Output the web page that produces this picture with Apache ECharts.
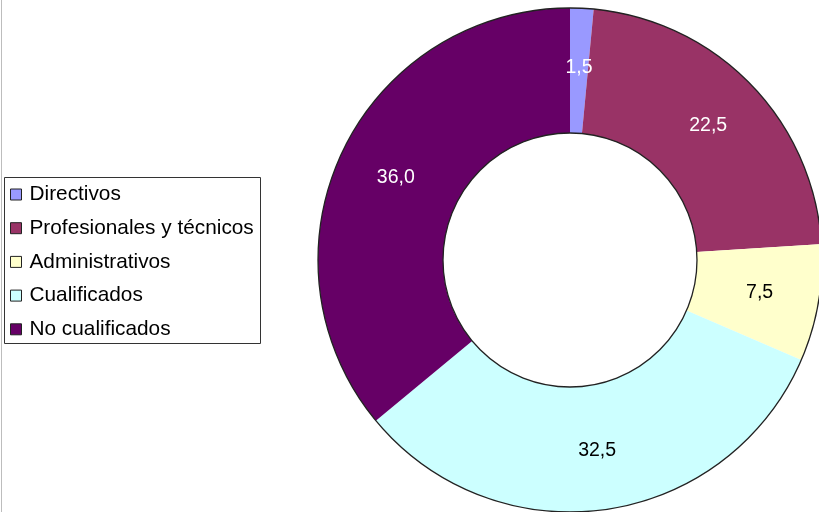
<!DOCTYPE html>
<html>
<head>
<meta charset="utf-8">
<script src="https://cdn.jsdelivr.net/npm/echarts@6/dist/echarts.min.js"></script>
<style>
html,body{margin:0;padding:0;background:#fff;}
#chart{width:819px;height:512px;}
</style>
</head>
<body>
<div id="chart"></div>
<script>
const categories = ['Directivos', 'Profesionales y técnicos', 'Administrativos', 'Cualificados', 'No cualificados'];
const values = [1.5, 22.5, 7.5, 32.5, 36.0];
const colors = ['#9999FF', '#993366', '#FFFFCC', '#CCFFFF', '#660066'];
const labelColors = ['#ffffff', '#ffffff', '#000000', '#000000', '#ffffff'];

const chart = echarts.init(document.getElementById('chart'), null, {renderer: 'canvas'});
const FONT = '"Liberation Sans", Arial, sans-serif';

const data = categories.map((name, i) => ({
  name: name,
  value: values[i],
  itemStyle: {color: colors[i]},
  label: {color: labelColors[i]}
}));

chart.setOption({
  animation: false,
  backgroundColor: '#ffffff',
  graphic: [
    {type: 'line', shape: {x1: 1.5, y1: 0, x2: 1.5, y2: 512}, style: {stroke: '#bdbdbd', lineWidth: 1}, silent: true},
    {type: 'rect', shape: {x: 4.5, y: 177.5, width: 256, height: 166}, style: {fill: '#ffffff', stroke: '#333333', lineWidth: 1}, z: -1, silent: true}
  ],
  legend: {
    orient: 'vertical',
    left: 10,
    top: 184,
    padding: 0,
    data: categories,
    icon: 'rect',
    itemWidth: 11,
    itemHeight: 11,
    itemGap: 12.7,
    selectedMode: false,
    itemStyle: {borderColor: '#222222', borderWidth: 1},
    textStyle: {fontFamily: FONT, fontSize: 20.8, color: '#000000', padding: [0, 0, 0, 3]}
  },
  series: [
    {
      type: 'pie',
      center: [570, 260],
      radius: [127, 252],
      startAngle: 90,
      clockwise: true,
      silent: true,
      avoidLabelOverlap: false,
      itemStyle: {borderWidth: 0},
      label: {
        show: true,
        position: 'inside',
        fontFamily: FONT,
        fontSize: 19.5,
        formatter: p => p.value.toFixed(1).replace('.', ',')
      },
      labelLine: {show: false},
      emphasis: {disabled: true},
      data: data
    },
    {
      type: 'pie',
      center: [570, 260],
      radius: [127, 252],
      silent: true,
      z: 5,
      label: {show: false},
      labelLine: {show: false},
      emphasis: {disabled: true},
      itemStyle: {color: 'rgba(0,0,0,0)', borderColor: '#222222', borderWidth: 1.3},
      data: [{name: '__ring', value: 1}]
    }
  ]
});
</script>
</body>
</html>
